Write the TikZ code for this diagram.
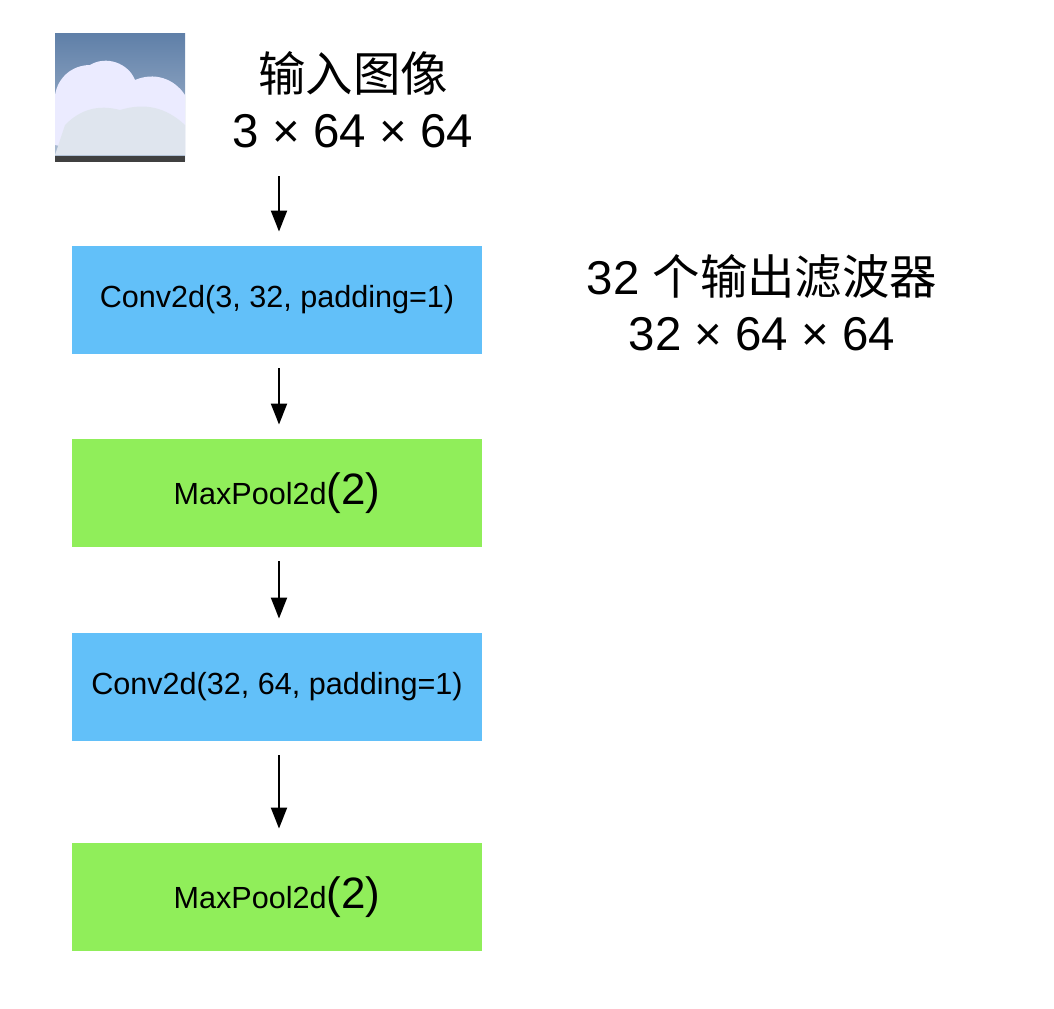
\documentclass[tikz,border=0pt]{standalone}
\usepackage{fontspec}
\setmainfont{Liberation Sans}
\newfontfamily\cjk{Noto Sans CJK SC}
\usetikzlibrary{positioning,arrows.meta}
\definecolor{convblue}{HTML}{62C0F9}
\definecolor{poolgreen}{HTML}{90EE5A}
\definecolor{sky}{HTML}{5F7FA8}
\begin{document}
\begin{tikzpicture}[x=0.02cm, y=-0.02cm,
    layer/.style={minimum width=8.22cm, minimum height=2.16cm, font=\fontsize{17.4}{20}\selectfont},
    conv/.style={layer, fill=convblue},
    pool/.style={layer, fill=poolgreen},
    big/.style={font=\fontsize{27}{31}\selectfont, align=center},
    flow/.style={-{Triangle[length=12pt, width=9pt]}, line width=1.6pt, shorten >=8pt, shorten <=8pt}]
  \useasboundingbox (0,0) rectangle (1054,1008);

  % thumbnail of the input
  \shade[top color=sky, bottom color=sky!50!white] (55,33) rectangle (185,160);
  \fill[white!92!blue] (55,95) to[bend left=40] (90,65) to[bend left=50] (135,80)
    to[bend left=40] (185,95) -- (185,150) to[bend left=10] (55,145) -- cycle;
  \fill[white!80!sky] (65,125) to[bend left=30] (120,110) to[bend left=30] (185,125) -- (185,155) -- (55,155) -- cycle;
  \draw[black!75, line width=3pt] (55,159) -- (185,159);
  \node[inner sep=0, minimum width=2.6cm, minimum height=2.54cm] (img) at (120,96) {};

  \node[big] (inp) at (353,100) {{\cjk 输入图像}\\[1pt]3 × 64 × 64};

  \node[conv] (c1) at (277,300) {Conv2d(3, 32, padding=1)};
  \node[pool] (p1) at (277,493) {MaxPool2d\fontsize{25}{26}\selectfont(2)};
  \node[conv] (c2) at (277,687) {Conv2d(32, 64, padding=1)};
  \node[pool] (p2) at (277,897) {MaxPool2d\fontsize{25}{26}\selectfont(2)};

  \node[big] (out) at (762,303) {32 {\cjk 个输出滤波器}\\[1pt]32 × 64 × 64};

  \coordinate (a0) at (279,162);
  \draw[flow] (a0) -- (c1.north -| a0);
  \draw[flow] (c1.south -| a0) -- (p1.north -| a0);
  \draw[flow] (p1.south -| a0) -- (c2.north -| a0);
  \draw[flow] (c2.south -| a0) -- (p2.north -| a0);
\end{tikzpicture}
\end{document}
